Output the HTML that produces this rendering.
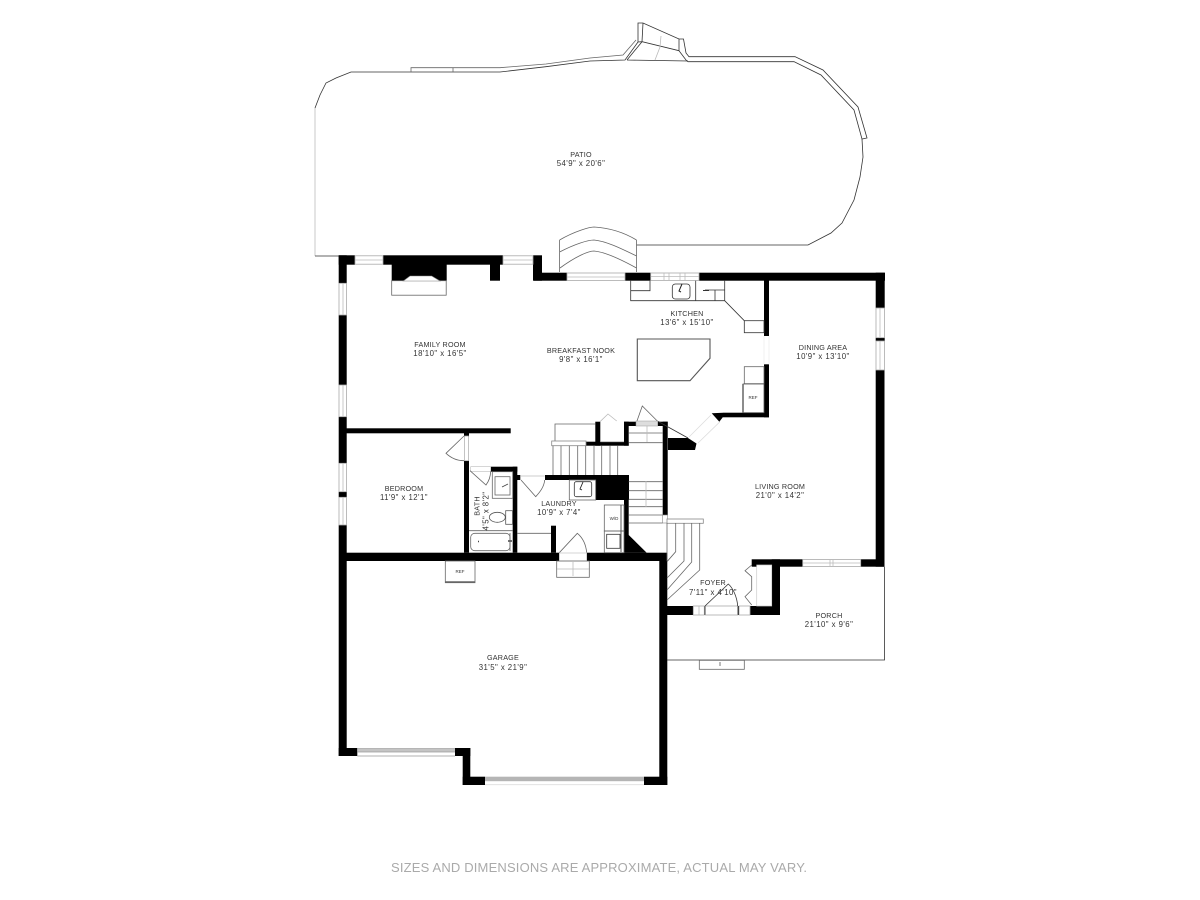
<!DOCTYPE html>
<html>
<head>
<meta charset="utf-8">
<style>
html,body{margin:0;padding:0;background:#fff;width:1200px;height:900px;overflow:hidden}
svg{display:block;filter:blur(.3px)}
text{font-family:"Liberation Sans",sans-serif;text-anchor:middle;fill:#333;font-size:7.8px;letter-spacing:.45px}
text.n{font-size:7.2px;letter-spacing:.2px}
.w{fill:#000;stroke:none}
.l{fill:none;stroke:#666;stroke-width:.8}
.d{fill:none;stroke:#333;stroke-width:.8}
.g{fill:none;stroke:#bbb;stroke-width:.8}
.win{fill:#fff;stroke:#aaa;stroke-width:.8}
text.sm{font-size:4.5px;letter-spacing:0}
</style>
</head>
<body>
<svg width="1200" height="900" viewBox="0 0 1200 900" xmlns="http://www.w3.org/2000/svg">
<rect width="1200" height="900" fill="#fff"/>

<!-- Patio -->
<path class="d" d="M636.5 245H808L831 233L842 223L854 200L860 177L863 157L862 139"/>
<path class="g" d="M315 256V108"/>
<path class="d" d="M315 108L320 95L326 83L336 78L351 72H500L546 66.700L590 61L625 60L638 42L638 23L643 23L679 39L683.500 39L686 53L689 56.700H795L823 70L858 107L867 138L862 139L854 110L821 75L794 61.700H688L686 60L679 50.700L679 39"/>
<path class="d" d="M643 23L642 41.700L679 50.700M627 60L642 41.700M627 60L688 61M638 42L642 41.700"/>
<path class="g" d="M661 36L660 47L655 60"/>
<path class="l" d="M411 72V67.700H500L546 64L590 58L623 55L636 40M453 67.700V72"/>
<path class="d" d="M315 256H339"/>
<path class="l" d="M559.600 240C575 231 590 227 594 227C610 228 625 233 636.500 240M559.600 252C575 244 588 240 594 240C606 241 622 249 636.500 256M560 268C575 257 588 251 594 251C606 252 622 260 636.500 268M559.600 240V272M636.500 240V272"/>

<!-- Exterior walls -->
<g class="w">
<rect x="338.700" y="255.300" width="16.300" height="9.400"/>
<rect x="383" y="255.300" width="120" height="9.400"/>
<rect x="533" y="255.300" width="9" height="25.400"/>
<rect x="534" y="272.700" width="33" height="8"/>
<rect x="625" y="272.700" width="25.700" height="8"/>
<rect x="699" y="272.700" width="186" height="8"/>
<rect x="875.700" y="272.700" width="9" height="35.300"/>
<rect x="875.700" y="337.700" width="9" height="3.300"/>
<rect x="875.700" y="370" width="8.800" height="196.700"/>
<rect x="338.700" y="255.300" width="8" height="28"/>
<rect x="338.700" y="315" width="8" height="70"/>
<rect x="338.700" y="416.700" width="8" height="46.600"/>
<rect x="338.700" y="491.700" width="8" height="5.600"/>
<rect x="338.700" y="525" width="8" height="231"/>
<rect x="338.700" y="748" width="18.600" height="8"/>
<rect x="455" y="748" width="15.300" height="8"/>
<rect x="462.700" y="748" width="7.600" height="37"/>
<rect x="462.700" y="776.700" width="22.300" height="8.300"/>
<rect x="644" y="776.700" width="23.300" height="8.300"/>
<rect x="659.300" y="553" width="8" height="232"/>
<rect x="346" y="552.700" width="213.300" height="8.300"/>
<rect x="587" y="552.700" width="80" height="8.300"/>
<!-- Fireplace / stubs -->
<rect x="391.700" y="264" width="55" height="16.700"/>
<rect x="490" y="264" width="10" height="16.700"/>
<!-- Family/bedroom wall -->
<rect x="346" y="428.300" width="164.700" height="5"/>
<rect x="464" y="433" width="5" height="3.500"/>
<rect x="464" y="460.700" width="5" height="92"/>
<!-- Bath -->
<rect x="490.700" y="466.700" width="26.600" height="5"/>
<rect x="512.700" y="466.700" width="4.600" height="86"/>
<rect x="517" y="475" width="3.300" height="5"/>
<!-- Laundry -->
<rect x="545" y="475" width="84" height="5"/>
<rect x="595.700" y="475" width="33.300" height="25"/>
<rect x="624" y="500" width="4.700" height="35"/>
<polygon points="624,530 628.700,535 646.700,552.700 624,552.700"/>
<rect x="551" y="525.700" width="5" height="27"/>
<!-- Stair walls -->
<rect x="624" y="421.700" width="4.700" height="24"/>
<rect x="624" y="421.700" width="12" height="4.300"/>
<rect x="657.700" y="421.700" width="10" height="4.300"/>
<rect x="662.700" y="421.700" width="5" height="93.300"/>
<rect x="586" y="441.700" width="42.700" height="4"/>
<rect x="595.300" y="421.700" width="5" height="24"/>
<polygon points="668,438 688,438 696.500,443.500 695,450 668,450"/>
<!-- Dining wall -->
<rect x="764" y="280" width="5" height="56"/>
<rect x="764" y="364.300" width="5" height="53"/>
<rect x="723" y="412.700" width="46" height="4.600"/>
<polygon points="711.700,413.300 723,412.700 723,417 719.300,421.700"/>
<!-- Porch and foyer walls -->
<rect x="751.700" y="559.300" width="51" height="7.400"/>
<rect x="860.700" y="559.300" width="23.800" height="7.400"/>
<rect x="771.700" y="559.300" width="8.300" height="55.700"/>
<rect x="750" y="606" width="30" height="9"/>
<rect x="666.700" y="606" width="26.600" height="9"/>
<rect x="704" y="606" width="1.500" height="9"/>
<rect x="737.500" y="606" width="1.500" height="9"/>
</g>

<!-- Windows -->
<g class="win">
<rect x="355" y="255.800" width="28" height="8.400"/>
<rect x="503" y="255.800" width="30" height="8.400"/>
<rect x="567" y="273" width="58" height="7.500"/>
<rect x="650.700" y="273" width="48.300" height="7.500"/>
<rect x="876" y="308" width="8.500" height="29.700"/>
<rect x="876" y="341" width="8.500" height="29"/>
<rect x="339" y="283.300" width="7.500" height="31.700"/>
<rect x="339" y="385" width="7.500" height="31.700"/>
<rect x="339" y="463.300" width="7.500" height="28.400"/>
<rect x="339" y="497.300" width="7.500" height="27.700"/>
<rect x="802.700" y="559.500" width="58" height="7"/>
<rect x="693.300" y="606" width="11" height="9"/>
<rect x="739" y="606" width="11" height="9"/>
<rect x="705.500" y="606" width="32" height="9"/>
</g>
<path class="g" d="M355 260H383M503 260H533M567 277H625M650.700 276.500H699M664 273V280M669 273V280M680 273V280M685 273V280M880 308V337M880 341V370M343 283V315M343 385V417M343 463V492M343 497V525M802.700 563H860.700M830 559.500V566.500M833 559.500V566.500M699 606V615"/>
<rect x="357.300" y="748" width="97.700" height="4.500" fill="#b5b5b5"/>
<path d="M357.300 750H455" stroke="#ddd" stroke-width=".7"/>
<path d="M357.300 756H455" stroke="#999" stroke-width=".8"/>
<rect x="485" y="776.700" width="159" height="4.500" fill="#b5b5b5"/>
<path d="M485 784.700H644" stroke="#ddd" stroke-width=".8"/>

<!-- Fireplace -->
<rect x="391.700" y="280.700" width="54.500" height="14.500" class="l"/>
<polygon points="403.300,281 410,276 431.700,276 440,281" fill="#fff" stroke="#888" stroke-width=".6"/>

<!-- Kitchen -->
<path class="d" d="M630.700 290.700H650V280.700M630.700 280.700V300.700H724.700V280.700M695.700 280.700V300.700M705 290H724.700M715 290V300.700M724.700 300.700L744.300 320.700"/>
<rect x="672.300" y="284" width="17.700" height="15" rx="3" class="d"/>
<path d="M682 284L679 291L681 292" fill="none" stroke="#222" stroke-width="1"/>
<path d="M703 290.500H709" stroke="#333" stroke-width="1"/>
<rect x="744.300" y="320.700" width="19.700" height="12" class="d"/>
<polygon points="637.300,339 710,339 710,358.300 690,380.700 637.300,380.700" fill="#fff" stroke="#555" stroke-width="1.100"/>
<rect x="744.300" y="366.700" width="19.700" height="17" class="l"/>
<rect x="743" y="384" width="21" height="28.700" fill="#fff" stroke="#555" stroke-width=".8"/>
<path d="M743 384V412.700" stroke="#666" stroke-width="1.500"/>
<text x="753" y="399" class="sm">REF</text>
<path d="M764 336V364.300M769 336V364.300" stroke="#eee" stroke-width=".8"/>

<!-- Angled door by living room -->
<path d="M689 437L711 415M698 443L720 421.700" stroke="#ddd" stroke-width=".8"/>

<!-- Stairs -->
<path class="l" d="M555 441V424H595.300"/>
<rect x="551.700" y="441" width="34.300" height="4.700" fill="#fff" stroke="#888" stroke-width=".8"/>
<path class="l" d="M553 445.700V475M561 445.700V475M569.300 445.700V475M577.700 445.700V475M585.700 445.700V475M594 445.700V475M601.700 445.700V475M610 445.700V475M617.700 445.700V475"/>
<path class="g" d="M600 421.700L608 414L616.700 421M600.300 441.700H624"/>
<path class="l" d="M636.700 421.700L642.300 406L657.300 421"/>
<path class="d" d="M657.300 421L688 438"/>
<rect x="636" y="421" width="21.700" height="5" fill="#ddd" stroke="#999" stroke-width=".5"/>
<path class="l" d="M628.700 433H662.700M628.700 442.700H662.700M628.700 481.700H662.700M628.700 490.700H662.700M628.700 499.300H662.700M628.700 506.700H662.700M628.700 515H662.700M628.700 523H662.700"/>
<path class="g" d="M647 426V442M646 481V507"/>
<rect x="662.700" y="515" width="5" height="8" fill="#fff" stroke="#888" stroke-width=".6"/>
<rect x="667" y="519" width="36.300" height="4.300" fill="#fff" stroke="#888" stroke-width=".8"/>
<path class="l" d="M667 523V561M675.700 523V551.700L667 561.700M684 523V561L667 578M691.700 523V562L667 590M699.700 523V570L667 600"/>

<!-- Foyer -->
<path class="l" d="M751.700 565L745 570.700L751.700 576.700V590L745 596.700L751.700 605"/>
<rect x="756.700" y="565" width="15" height="41" fill="#fff" stroke="#ccc" stroke-width=".7"/>
<path class="d" d="M705 606L728.300 584C733 588 737 597 737.700 606"/>

<!-- Porch -->
<path class="d" d="M667 660H884.500V566.700"/>
<rect x="699.300" y="660.300" width="45" height="9" class="l"/>
<path d="M720 662V666" stroke="#bbb" stroke-width="2"/>

<!-- Bedroom door -->
<path class="l" d="M464 436L446 453.300C451 458 457 460.700 464 460.700"/>
<rect x="464.500" y="436" width="4" height="24.700" fill="#fff" stroke="#aaa" stroke-width=".7"/>

<!-- Bath -->
<rect x="470.700" y="466.700" width="20" height="4.700" fill="#fff" stroke="#bbb" stroke-width=".6"/>
<path class="l" d="M470 470.700L486 485C489 481 490.500 476 490.700 471.300"/>
<rect x="492.300" y="471.700" width="20.400" height="26.600" class="l"/>
<rect x="495" y="476.700" width="15" height="18.300" class="l"/>
<path d="M508 484L502 487" stroke="#444" stroke-width=".9"/>
<rect x="505.700" y="510.700" width="6.800" height="13.600" fill="#fff" stroke="#555" stroke-width=".8"/>
<ellipse cx="497.300" cy="517.300" rx="8" ry="5" fill="#fff" stroke="#555" stroke-width=".8"/>
<path class="l" d="M469 530.700H512.700"/>
<rect x="470.700" y="533.300" width="39.300" height="17.400" rx="4" class="l"/>
<path d="M508 541H512M478 541.500H479" stroke="#444" stroke-width="1.500"/>
<path class="l" d="M510 533V551"/>

<!-- Laundry -->
<path class="l" d="M521 480L535.700 496.700C540 492 544 487 544.700 480"/>
<path class="g" d="M521 476H544.700"/>
<rect x="569.300" y="480" width="26.400" height="20" class="l"/>
<rect x="574.300" y="481.700" width="17.400" height="15" rx="2" class="d"/>
<path d="M583 482L580 489L582 490" fill="none" stroke="#222" stroke-width=".9"/>
<rect x="604.300" y="505" width="19.700" height="26" class="l"/>
<rect x="604.300" y="531" width="19.700" height="21.700" class="l"/>
<rect x="606.700" y="534.300" width="13.300" height="14" class="d"/>
<path d="M621 505V531M621 531V552" stroke="#555" stroke-width="1"/>
<text x="614" y="520" class="sm">W/D</text>
<path class="l" d="M517.300 533.300H551"/>
<path class="l" d="M559.300 552.700L577.300 533.300C583 538 586 545 586.700 552.700"/>
<rect x="559.300" y="553" width="27.400" height="8" fill="#fff" stroke="#bbb" stroke-width=".6"/>
<rect x="556.700" y="561" width="32.600" height="16.300" class="l"/>
<path class="g" d="M573 562V576M557 569H589"/>

<!-- Garage REF -->
<rect x="445.300" y="561" width="29.700" height="21.700" class="l"/>
<path d="M445.300 582H475" stroke="#666" stroke-width="1.500"/>
<text x="460" y="573" class="sm">REF</text>

<!-- Labels -->
<text class="n" x="581" y="157">PATIO</text><text x="581" y="166">54'9" x 20'6"</text>
<text class="n" x="440" y="347">FAMILY ROOM</text><text x="440" y="356">18'10" x 16'5"</text>
<text class="n" x="581" y="353">BREAKFAST NOOK</text><text x="581" y="362">9'8" x 16'1"</text>
<text class="n" x="687" y="316">KITCHEN</text><text x="687" y="325">13'6" x 15'10"</text>
<text class="n" x="823" y="350">DINING AREA</text><text x="823" y="359">10'9" x 13'10"</text>
<text class="n" x="780" y="489">LIVING ROOM</text><text x="780" y="498">21'0" x 14'2"</text>
<text class="n" x="404" y="491">BEDROOM</text><text x="404" y="500">11'9" x 12'1"</text>
<text class="n" x="559" y="506">LAUNDRY</text><text x="559" y="515">10'9" x 7'4"</text>
<text class="n" transform="translate(479.500 506) rotate(-90)">BATH</text>
<text transform="translate(488.500 511) rotate(-90)">4'5" x 8'2"</text>
<text class="n" x="713" y="585">FOYER</text><text x="713" y="595">7'11" x 4'10"</text>
<text class="n" x="829" y="618">PORCH</text><text x="829" y="627">21'10" x 9'6"</text>
<text class="n" x="503" y="660">GARAGE</text><text x="503" y="670">31'5" x 21'9"</text>

<text x="599" y="872" textLength="416" lengthAdjust="spacing" style="font-size:13px;fill:#aaa;letter-spacing:0">SIZES AND DIMENSIONS ARE APPROXIMATE, ACTUAL MAY VARY.</text>
</svg>
</body>
</html>
